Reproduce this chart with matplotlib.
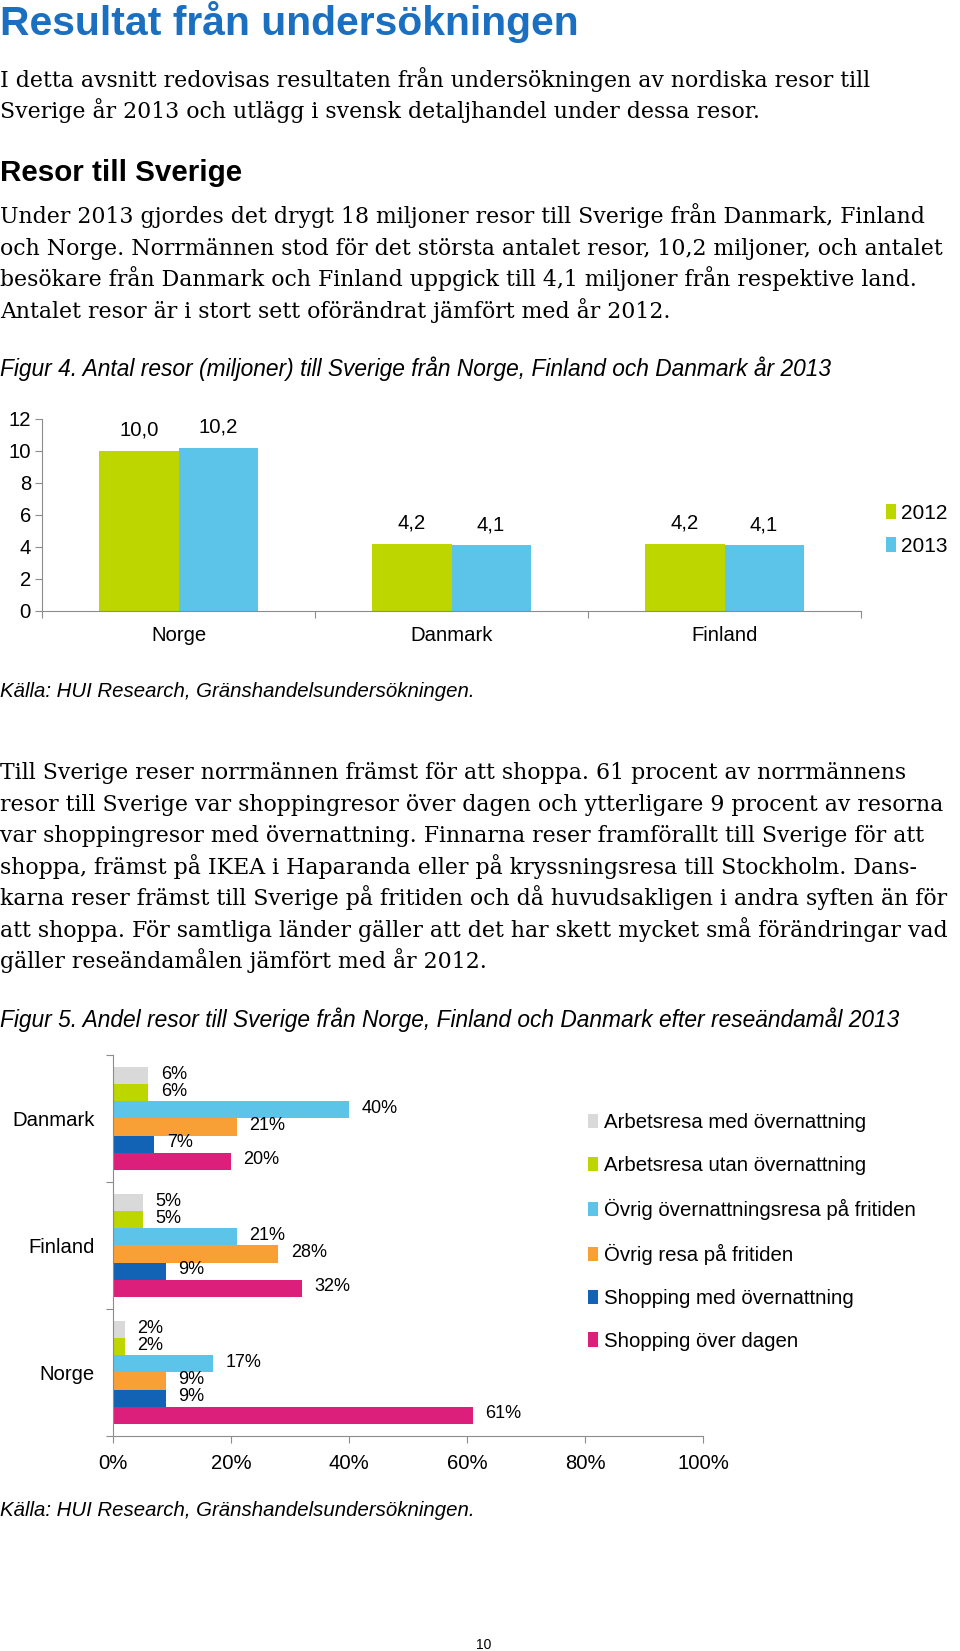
import matplotlib
matplotlib.use('Agg')
import matplotlib.pyplot as plt
import numpy as np

W, H = 960, 1651

# --- data ---
countries1 = ['Norge', 'Danmark', 'Finland']
trips_2012 = [10.0, 4.2, 4.2]
trips_2013 = [10.2, 4.1, 4.1]
lab_2012 = ['10,0', '4,2', '4,2']
lab_2013 = ['10,2', '4,1', '4,1']

countries2 = ['Danmark', 'Finland', 'Norge']
purposes = ['Arbetsresa med övernattning', 'Arbetsresa utan övernattning',
            'Övrig övernattningsresa på fritiden', 'Övrig resa på fritiden',
            'Shopping med övernattning', 'Shopping över dagen']
shares = {
    'Danmark': [6, 6, 40, 21, 7, 20],
    'Finland': [5, 5, 21, 28, 9, 32],
    'Norge':   [2, 2, 17, 9, 9, 61],
}

para1 = ["I detta avsnitt redovisas resultaten från undersökningen av nordiska resor till",
         "Sverige år 2013 och utlägg i svensk detaljhandel under dessa resor."]
para2 = ["Under 2013 gjordes det drygt 18 miljoner resor till Sverige från Danmark, Finland",
         "och Norge. Norrmännen stod för det största antalet resor, 10,2 miljoner, och antalet",
         "besökare från Danmark och Finland uppgick till 4,1 miljoner från respektive land.",
         "Antalet resor är i stort sett oförändrat jämfört med år 2012."]
para3 = ["Till Sverige reser norrmännen främst för att shoppa. 61 procent av norrmännens",
         "resor till Sverige var shoppingresor över dagen och ytterligare 9 procent av resorna",
         "var shoppingresor med övernattning. Finnarna reser framförallt till Sverige för att",
         "shoppa, främst på IKEA i Haparanda eller på kryssningsresa till Stockholm. Dans-",
         "karna reser främst till Sverige på fritiden och då huvudsakligen i andra syften än för",
         "att shoppa. För samtliga länder gäller att det har skett mycket små förändringar vad",
         "gäller reseändamålen jämfört med år 2012."]

green = '#BDD600'
lblue = '#5BC4E8'
bar_colors = ['#D9D9D9', green, lblue, '#F8A035', '#1262B6', '#DD1F7C']
axis_gray = '#8C8C8C'

plt.rcParams['font.family'] = 'Liberation Sans'

fig = plt.figure(figsize=(W / 100, H / 100), dpi=100)


def T(x, y, s, **kw):
    fig.text(x / W, 1 - y / H, s, **kw)


serif = dict(family='DejaVu Serif', fontsize=15.85, va='baseline')
fs_chart = 14.6

T(0, 35, 'Resultat från undersökningen', fontsize=29.4, fontweight='bold',
  color='#1A6FC0', va='baseline')
for i, line in enumerate(para1):
    T(0, 87 + i * 31, line, **serif)
T(0, 181, 'Resor till Sverige', fontsize=21.3, fontweight='bold', va='baseline')
for i, line in enumerate(para2):
    T(0, 223 + i * 31.7, line, **serif)
T(0, 376, 'Figur 4. Antal resor (miljoner) till Sverige från Norge, Finland och Danmark år 2013',
  fontsize=16.4, style='italic', va='baseline')

# --- chart 1 ---
ax1 = fig.add_axes([42 / W, 1 - 611 / H, (861 - 42) / W, (611 - 419) / H])
x = np.arange(len(countries1))
bw = 0.29
b1 = ax1.bar(x - bw / 2, trips_2012, bw, color=green, label='2012')
b2 = ax1.bar(x + bw / 2, trips_2013, bw, color=lblue, label='2013')
for bars, labs in ((b1, lab_2012), (b2, lab_2013)):
    for r, s in zip(bars, labs):
        ax1.annotate(s, (r.get_x() + r.get_width() / 2, r.get_height()),
                     xytext=(0, 15), textcoords='offset points',
                     ha='center', va='center', fontsize=fs_chart)
ax1.set_xlim(-0.5, 2.5)
ax1.set_ylim(0, 12)
ax1.set_yticks(range(0, 13, 2))
ax1.set_xticks([-0.5, 0.5, 1.5, 2.5])
ax1.set_xticklabels([])
ax1.set_xticks(x, minor=True)
ax1.set_xticklabels(countries1, minor=True)
ax1.tick_params(axis='x', which='minor', length=0, pad=11, labelsize=fs_chart)
ax1.tick_params(axis='x', which='major', length=5, color=axis_gray)
ax1.tick_params(axis='y', length=5, color=axis_gray, labelsize=fs_chart, pad=3)
for s in ('top', 'right'):
    ax1.spines[s].set_visible(False)
for s in ('left', 'bottom'):
    ax1.spines[s].set_color(axis_gray)
ax1.legend(loc='center left', bbox_to_anchor=(886 / W, 1 - 530 / H),
           bbox_transform=fig.transFigure, frameon=False, fontsize=15,
           handlelength=0.5, handleheight=0.7, handletextpad=0.2,
           labelspacing=0.67, borderpad=0, borderaxespad=0)

T(0, 697, 'Källa: HUI Research, Gränshandelsundersökningen.', fontsize=14.7,
  style='italic', va='baseline')

for i, line in enumerate(para3):
    T(0, 779 + i * 31.5, line, **serif)

T(0, 1027, 'Figur 5. Andel resor till Sverige från Norge, Finland och Danmark efter reseändamål 2013',
  fontsize=16.4, style='italic', va='baseline')

# --- chart 2 ---
ax2 = fig.add_axes([113 / W, 1 - 1436 / H, (703 - 113) / W, (1436 - 1055) / H])
bh = 0.134
for g, c in enumerate(countries2):
    for k, v in enumerate(shares[c]):
        yc = g + 0.5 + (k - 2.5) * bh
        ax2.barh(yc, v / 100, bh, color=bar_colors[k],
                 label=purposes[k] if g == 0 else None)
        ax2.annotate(f'{v}%', (v / 100, yc), xytext=(9, 1), textcoords='offset points',
                     ha='left', va='center', fontsize=13)
ax2.set_ylim(3, 0)
ax2.set_xlim(0, 1)
ax2.set_xticks(np.arange(0, 1.01, 0.2))
ax2.set_xticklabels([f'{int(round(t * 100))}%' for t in np.arange(0, 1.01, 0.2)])
ax2.set_yticks([0, 1, 2, 3])
ax2.set_yticklabels([])
ax2.set_yticks([0.5, 1.5, 2.5], minor=True)
ax2.set_yticklabels(countries2, minor=True)
ax2.tick_params(axis='y', which='minor', length=0, pad=13, labelsize=fs_chart)
ax2.tick_params(axis='y', which='major', length=5, color=axis_gray)
ax2.tick_params(axis='x', length=5, color=axis_gray, labelsize=fs_chart, pad=8)
for s in ('top', 'right'):
    ax2.spines[s].set_visible(False)
for s in ('left', 'bottom'):
    ax2.spines[s].set_color(axis_gray)
ax2.legend(loc='center left', bbox_to_anchor=(588 / W, 1 - 1232 / H),
           bbox_transform=fig.transFigure, frameon=False, fontsize=14.7,
           handlelength=0.5, handleheight=0.7, handletextpad=0.3,
           labelspacing=1.17, borderpad=0, borderaxespad=0)

T(0, 1516, 'Källa: HUI Research, Gränshandelsundersökningen.', fontsize=14.7,
  style='italic', va='baseline')
T(484, 1645, '10', fontsize=10, ha='center', va='center')

fig.savefig('out.png', dpi=100)
